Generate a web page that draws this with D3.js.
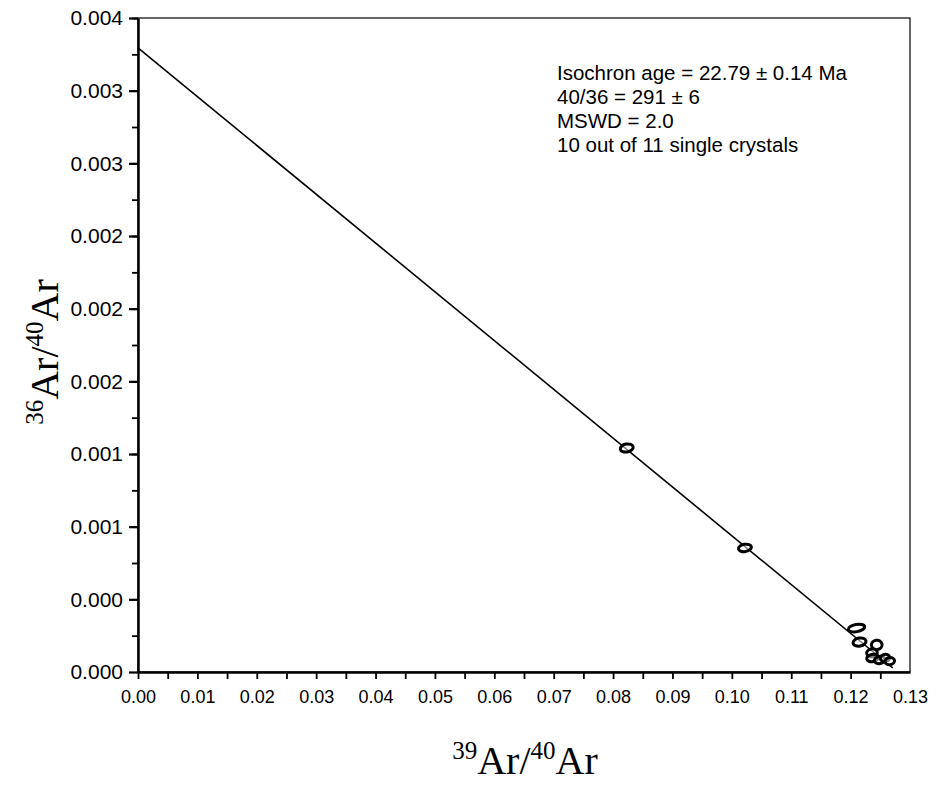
<!DOCTYPE html>
<html>
<head>
<meta charset="utf-8">
<script src="https://cdn.jsdelivr.net/npm/d3@7"></script>
<style>
  body { margin: 0; background: #fff; }
  svg { display: block; }
</style>
</head>
<body>
<svg id="chart" width="938" height="785"></svg>
<script>
// single crystal analyses (39Ar/40Ar, 36Ar/40Ar) with 1 sigma errors
const ratioX = [0.0823, 0.1022, 0.1210, 0.1215, 0.1244, 0.1236, 0.1237, 0.1249, 0.1258, 0.1266];
const ratioY = [0.001233, 0.000683, 0.000242, 0.000165, 0.000149, 0.000105, 0.000077, 0.000066, 0.000077, 0.000060];
const errX = [0.0011, 0.0011, 0.0014, 0.0011, 0.0009, 0.0009, 0.0010, 0.0009, 0.0008, 0.0008];
const errY = [0.000022, 0.000020, 0.000020, 0.000022, 0.000026, 0.000022, 0.000020, 0.000020, 0.000020, 0.000020];

// isochron fit end points
const fitX = [0, 0.1271];
const fitY = [0.003436, 0.000022];

const xTicks = [0, 0.01, 0.02, 0.03, 0.04, 0.05, 0.06, 0.07, 0.08, 0.09, 0.10, 0.11, 0.12, 0.13];
const yTicks = [0, 0.0004, 0.0008, 0.0012, 0.0016, 0.0020, 0.0024, 0.0028, 0.0032, 0.0036];

const notes = [
  "Isochron age = 22.79 \u00b1 0.14 Ma",
  "40/36 = 291 \u00b1 6",
  "MSWD = 2.0",
  "10 out of 11 single crystals"
];

const plotLeft = 138, plotRight = 910, plotTop = 18, plotBottom = 672;

const svg = d3.select("#chart");

const x = d3.scaleLinear().domain([0, 0.13]).range([plotLeft, plotRight]);
const y = d3.scaleLinear().domain([0, 0.0036]).range([plotBottom, plotTop]);

// frame
svg.append("rect")
  .attr("x", plotLeft).attr("y", plotTop)
  .attr("width", plotRight - plotLeft).attr("height", plotBottom - plotTop)
  .attr("fill", "none").attr("stroke", "#000").attr("stroke-width", 1.2);

// x axis
const xMinor = d3.range(0, 26).map((i) => i * 0.005);
svg.append("g")
  .attr("transform", `translate(0,${plotBottom})`)
  .call(d3.axisBottom(x).tickValues(xMinor).tickSize(7).tickSizeOuter(0).tickFormat(""))
  .call((g) => g.select(".domain").attr("stroke-width", 2.5))
  .call((g) => g.selectAll(".tick line").attr("stroke-width", 1.8));

svg.append("g")
  .attr("transform", `translate(0,${plotBottom})`)
  .call(d3.axisBottom(x).tickValues(xTicks).tickSize(0).tickPadding(18).tickFormat(d3.format(".2f")))
  .call((g) => g.select(".domain").remove())
  .call((g) => g.selectAll("text")
    .attr("font-family", "'Liberation Sans', Arial, sans-serif")
    .attr("font-size", 18).attr("fill", "#000"));

// y axis
const yMinor = d3.range(0, 18).map((i) => i * 0.0002 + 0.0002);
svg.append("g")
  .attr("transform", `translate(${plotLeft},0)`)
  .call(d3.axisLeft(y).tickValues(yMinor).tickSize(6).tickSizeOuter(0).tickFormat(""))
  .call((g) => g.select(".domain").attr("stroke-width", 2.5))
  .call((g) => g.selectAll(".tick line").attr("stroke-width", 1.8));

svg.append("g")
  .attr("transform", `translate(${plotLeft},0)`)
  .call(d3.axisLeft(y).tickValues(yTicks).tickSize(9).tickPadding(6).tickFormat(d3.format(".3f")))
  .call((g) => g.select(".domain").remove())
  .call((g) => g.selectAll(".tick line").attr("stroke-width", 2.2))
  .call((g) => g.selectAll("text")
    .attr("font-family", "'Liberation Sans', Arial, sans-serif")
    .attr("font-size", 21).attr("fill", "#000"));

// isochron line
svg.append("line")
  .attr("x1", x(fitX[0])).attr("y1", y(fitY[0]))
  .attr("x2", x(fitX[1])).attr("y2", y(fitY[1]))
  .attr("stroke", "#000").attr("stroke-width", 1.6);

// error ellipses
const pts = ratioX.map((d, i) => ({ x: d, y: ratioY[i], sx: errX[i], sy: errY[i] }));
svg.append("g")
  .selectAll("ellipse")
  .data(pts)
  .enter()
  .append("ellipse")
  .attr("cx", (d) => x(d.x))
  .attr("cy", (d) => y(d.y))
  .attr("rx", (d) => x(d.sx) - x(0))
  .attr("ry", (d) => y(0) - y(d.sy))
  .attr("transform", (d) => `rotate(-10,${x(d.x)},${y(d.y)})`)
  .attr("fill", "#fff")
  .attr("fill-opacity", 0.5)
  .attr("stroke", "#000")
  .attr("stroke-width", 3);

// annotation
svg.append("g")
  .selectAll("text")
  .data(notes)
  .enter()
  .append("text")
  .attr("x", 557)
  .attr("y", (d, i) => 80 + i * 24)
  .attr("font-family", "'Liberation Sans', Arial, sans-serif")
  .attr("font-size", 20.5)
  .attr("fill", "#000")
  .text((d) => d);

// axis titles
function ratioTitle(sel, a, b) {
  sel.append("tspan").attr("font-size", 25).attr("dy", -15).text(a);
  sel.append("tspan").attr("dy", 15).text("Ar/");
  sel.append("tspan").attr("font-size", 25).attr("dy", -15).text(b);
  sel.append("tspan").attr("dy", 15).text("Ar");
}

svg.append("text")
  .attr("x", 525).attr("y", 774)
  .attr("text-anchor", "middle")
  .attr("font-family", "'Liberation Serif', 'Times New Roman', serif")
  .attr("font-size", 40)
  .call(ratioTitle, "39", "40");

svg.append("text")
  .attr("transform", "translate(58,352) rotate(-90)")
  .attr("text-anchor", "middle")
  .attr("font-family", "'Liberation Serif', 'Times New Roman', serif")
  .attr("font-size", 40)
  .call(ratioTitle, "36", "40");
</script>
</body>
</html>
